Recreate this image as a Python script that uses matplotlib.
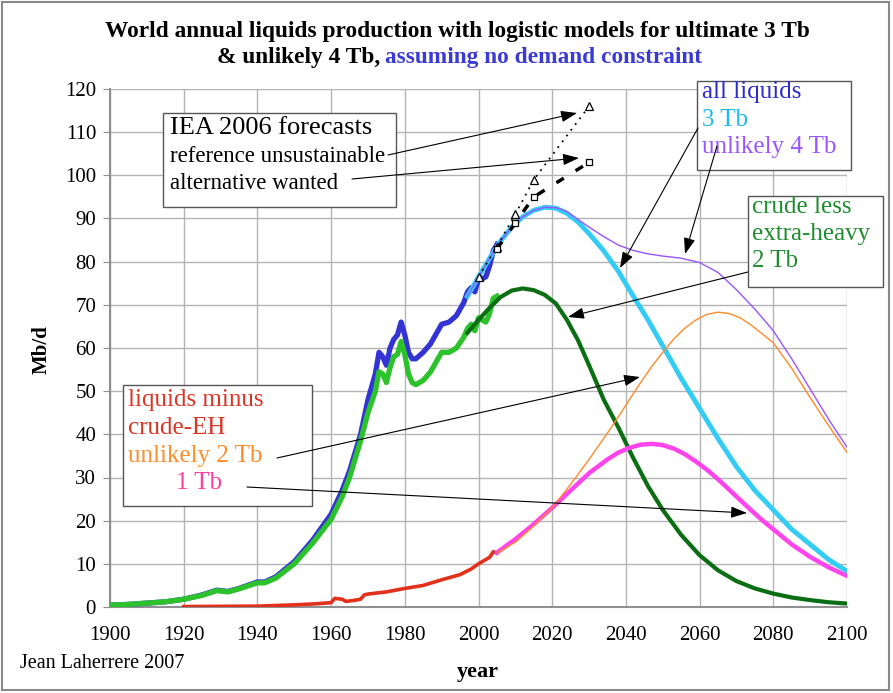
import matplotlib
matplotlib.use("Agg")
import matplotlib.pyplot as plt
from matplotlib.patches import Rectangle

W, H = 893, 693

# historical data (Mb/d)
hist_years = [1900, 1905, 1910, 1915, 1920, 1925, 1929, 1932, 1935, 1940, 1942, 1945,
              1950, 1955, 1960, 1963, 1965, 1968, 1970, 1972, 1973, 1974, 1975, 1976,
              1977, 1978, 1979, 1980, 1981, 1982, 1983, 1985, 1987, 1989, 1990, 1992,
              1994, 1996, 1997, 1998, 1999, 2000, 2001, 2002, 2003, 2004, 2005]
all_liquids = [0.4, 0.6, 0.9, 1.2, 1.8, 2.8, 3.9, 3.6, 4.3, 5.8, 5.8, 7.0,
               10.5, 15.5, 21.5, 27.0, 31.5, 40.0, 48.0, 54.0, 59.0, 58.0, 56.0, 60.0,
               62.0, 63.0, 66.0, 63.0, 59.0, 57.5, 57.5, 59.0, 61.0, 64.0, 65.5, 66.0,
               67.5, 70.5, 73.0, 74.0, 73.0, 76.0, 76.0, 76.5, 79.0, 82.5, 84.0]
crude_less_eh = [0.4, 0.6, 0.9, 1.2, 1.8, 2.7, 3.8, 3.5, 4.2, 5.6, 5.6, 6.7,
                 10.0, 14.8, 20.3, 25.5, 30.0, 38.5, 45.0, 50.0, 54.5, 54.0, 52.0, 55.5,
                 58.0, 58.5, 61.5, 58.5, 54.0, 52.0, 51.5, 52.5, 54.5, 57.5, 59.0, 59.0,
                 60.0, 62.5, 64.5, 65.5, 64.0, 67.0, 66.5, 66.0, 68.0, 71.5, 72.0]

red_years = [1920, 1930, 1940, 1950, 1955, 1960, 1961, 1963, 1964, 1966, 1968, 1969,
             1970, 1975, 1980, 1985, 1990, 1995, 1998, 2000, 2003, 2004, 2005]
liquids_minus_crude = [0.1, 0.15, 0.2, 0.5, 0.7, 1.0, 2.0, 1.8, 1.3, 1.5, 1.8, 2.8,
                       3.0, 3.5, 4.3, 5.0, 6.3, 7.5, 8.8, 10.0, 11.5, 12.8, 12.5]

# logistic models
model_years = [1997, 2000, 2003, 2006, 2009, 2012, 2015, 2018, 2021, 2024, 2027, 2030,
               2034, 2038, 2042, 2046, 2050, 2055, 2060, 2065, 2070, 2075, 2080, 2085,
               2090, 2095, 2100]
model_3tb = [72.0, 76.5, 80.8, 84.8, 88.0, 90.4, 91.9, 92.6, 92.4, 91.2, 89.2, 86.5,
             82.5, 77.7, 72.0, 66.5, 60.5, 53.0, 46.0, 39.0, 32.5, 27.0, 22.5, 18.0,
             14.5, 11.0, 8.3]
model_4tb = [72.0, 76.5, 80.8, 84.8, 88.0, 90.4, 91.9, 92.6, 92.5, 91.6, 89.8, 88.0,
             85.8, 83.8, 82.6, 81.8, 81.3, 80.8, 79.8, 77.5, 73.5, 69.0, 64.0, 57.5,
             50.5, 43.5, 37.0]
model_crude_2tb = [63.5, 66.5, 69.3, 71.8, 73.3, 73.8, 73.4, 72.3, 70.3, 66.5, 61.8, 56.0,
                   48.0, 41.5, 34.5, 28.0, 22.5, 16.7, 12.0, 8.5, 6.0, 4.3, 3.1, 2.2,
                   1.6, 1.1, 0.8]

other_years = [2005, 2010, 2015, 2020, 2025, 2030, 2035, 2038, 2041, 2044, 2047, 2050,
               2053, 2056, 2059, 2062, 2065, 2068, 2071, 2074, 2077, 2080, 2085, 2090,
               2095, 2100]
model_other_2tb = [12.5, 15.0, 18.8, 23.0, 28.4, 34.2, 40.3, 44.1, 48.1, 52.0, 55.7, 59.0,
                   62.1, 64.6, 66.5, 67.8, 68.3, 68.0, 67.0, 65.3, 63.3, 61.2, 55.3, 48.5,
                   42.0, 35.8]
model_other_1tb = [12.6, 15.7, 19.2, 23.0, 27.0, 31.0, 34.2, 35.8, 36.9, 37.6, 37.8, 37.5,
                   36.7, 35.4, 33.7, 31.8, 29.6, 27.2, 24.8, 22.4, 20.1, 18.0, 14.5, 11.6,
                   9.2, 7.2]

# IEA 2006 forecasts
ref_years = [2000, 2005, 2010, 2015, 2030]
ref_values = [76.5, 83.5, 91.0, 99.0, 116.0]
alt_years = [2005, 2010, 2015, 2030]
alt_values = [83.0, 89.0, 95.0, 103.0]

plt.rcParams['font.family'] = ['Liberation Serif', 'DejaVu Serif']

fig = plt.figure(figsize=(W / 100, H / 100), dpi=100)
ax = fig.add_axes([110 / W, 1 - 607 / H, (847 - 110) / W, (607 - 89) / H])


def fx(x):
    return x / W


def fy(y):
    return 1 - y / H


ax.plot(hist_years, all_liquids, color="#3434d4", lw=3.8, zorder=3)
ax.plot(hist_years, crude_less_eh, color="#2cc22c", lw=3.8, zorder=4)
ax.plot(red_years, liquids_minus_crude, color="#e2301a", lw=2.6, zorder=4)

ax.plot(model_years, model_crude_2tb, color="#0b6e12", lw=3.0, zorder=5)
ax.plot(model_years, model_3tb, color="#33ccf5", lw=3.5, zorder=5)
ax.plot(model_years, model_4tb, color="#9955ff", lw=1.0, zorder=6)
ax.plot(other_years, model_other_1tb, color="#ff44ee", lw=3.2, zorder=5)
ax.plot(other_years, model_other_2tb, color="#ff8a2a", lw=1.0, zorder=6)

ax.plot(ref_years, ref_values, color="k", lw=1.3, ls=(0, (1, 3)),
        marker="^", mfc="white", mec="k", ms=6, mew=0.9, zorder=7)
ax.plot(alt_years, alt_values, color="k", lw=2.5, ls=(0, (2.5, 4)),
        marker="s", mfc="white", mec="k", ms=4.5, mew=0.9, zorder=7)

ax.set_xlim(1900, 2100)
ax.set_ylim(0, 120)
ax.set_xticks(range(1900, 2101, 20))
ax.set_yticks(range(0, 121, 10))
ax.grid(True, color="#b4b4b4", lw=1.0)
ax.set_axisbelow(True)
for s in ["top", "right"]:
    ax.spines[s].set_visible(False)
for s in ["left", "bottom"]:
    ax.spines[s].set_color("#909090")
    ax.spines[s].set_linewidth(1.5)
ax.tick_params(axis="y", labelsize=15, length=5, color="#909090", pad=5)
ax.tick_params(axis="x", labelsize=15, length=0, pad=14)

# titles and labels
fig.text(fx(457), fy(32), "World annual liquids production with logistic models for ultimate 3 Tb",
         ha="center", va="center", fontsize=16.8, fontweight="bold")
fig.text(fx(380), fy(57), "& unlikely 4 Tb,", ha="right", va="center",
         fontsize=16.8, fontweight="bold")
fig.text(fx(385), fy(57), "assuming no demand constraint", ha="left", va="center",
         fontsize=16.8, fontweight="bold", color="#3a3ad6")
fig.text(fx(42), fy(350), "Mb/d", rotation=90, ha="center", va="center",
         fontsize=15, fontweight="bold")
fig.text(fx(478), fy(672), "year", ha="center", va="center", fontsize=16, fontweight="bold")
fig.text(fx(20), fy(663), "Jean Laherrere 2007", ha="left", va="center", fontsize=14.5)

# figure frame
fig.add_artist(Rectangle((fx(2), fy(690)), 887 / W, 688 / H, transform=fig.transFigure,
                         fill=False, ec="#8a8a8a", lw=1.5, zorder=1))


def box(x0, y0, x1, y1):
    ax.add_patch(Rectangle((fx(x0), fy(y1)), (x1 - x0) / W, (y1 - y0) / H,
                           transform=fig.transFigure, fc="white", ec="#555555",
                           lw=1.0, zorder=10, clip_on=False))


def label(x, y, s, color="k", size=18):
    ax.text(fx(x), fy(y), s, transform=fig.transFigure, ha="left", va="center",
            fontsize=size, color=color, zorder=11, clip_on=False)


def arrow(x0, y0, x1, y1):
    ax.annotate("", xy=(x1, H - y1), xytext=(x0, H - y0),
                xycoords="figure pixels", textcoords="figure pixels",
                arrowprops=dict(arrowstyle="-|>,head_length=0.7,head_width=0.25",
                                color="k", lw=0.8, mutation_scale=14,
                                shrinkA=0, shrinkB=0),
                annotation_clip=False, zorder=12)


# IEA box
box(163, 113, 396, 207)
label(170, 128, "IEA 2006 forecasts", size=19)
label(170, 157, "reference unsustainable", size=16.5)
label(170, 183, "alternative wanted", size=16.5)

# all liquids box
box(697, 81, 851, 170)
label(702, 92, "all liquids", color="#2b2bd0")
label(702, 120, "3 Tb", color="#1fb8f0")
label(702, 147, "unlikely 4 Tb", color="#9a55ff")

# crude box
box(748, 196, 883, 287)
label(752, 207, "crude less", color="#1e8c2e")
label(752, 234, "extra-heavy", color="#1e8c2e")
label(752, 261, "2 Tb", color="#1e8c2e")

# liquids minus box
box(123, 385, 312, 506)
label(128, 400, "liquids minus", color="#dd3322")
label(128, 428, "crude-EH", color="#dd3322")
label(128, 456, "unlikely 2 Tb", color="#ff8c2a")
label(176, 483, "1 Tb", color="#ff3fa0")

# arrows
arrow(388, 155, 577, 113)
arrow(352, 179, 579, 158)
arrow(698, 128, 620, 268)
arrow(717, 146, 685, 254)
arrow(748, 272, 568, 317)
arrow(277, 458, 640, 377)
arrow(247, 487, 747, 513)

fig.savefig("out.png", dpi=100)
